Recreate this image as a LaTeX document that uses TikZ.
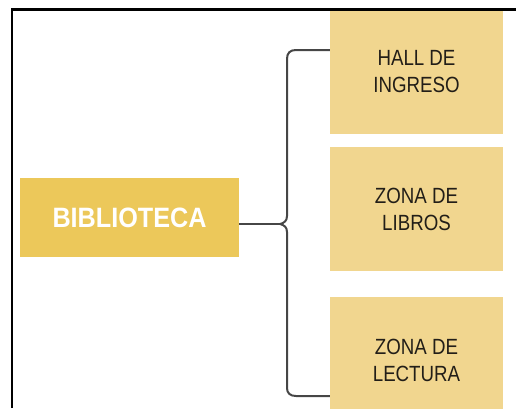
\documentclass[tikz,border=0pt]{standalone}
\usepackage{fontspec}
\newfontfamily\mainfont{Liberation Sans}[FakeStretch=0.9]
\newfontfamily\boxfont{Liberation Sans}[FakeStretch=0.85]
\usepackage{tikz}
\usetikzlibrary{positioning}
\definecolor{maingold}{RGB}{236,200,90}
\definecolor{areagold}{RGB}{241,214,143}
\definecolor{areatext}{RGB}{34,30,24}
\definecolor{bracegray}{RGB}{70,70,70}
\tikzstyle{mainbox} = [rectangle, minimum width=219pt, minimum height=79pt, inner sep=0pt, text centered, fill=maingold, text=white, font=\mainfont\bfseries\fontsize{28}{30}\selectfont]
\tikzstyle{areabox} = [rectangle, minimum width=173pt, minimum height=124pt, inner sep=0pt, align=center, fill=areagold, text=areatext, font=\boxfont\fontsize{22}{27}\selectfont]
\tikzstyle{brace} = [line width=2pt, draw=bracegray, line join=round]
\tikzstyle{frame} = [line width=2.2pt, draw=black]

\begin{document}
\begin{tikzpicture}[x=1pt,y=-1pt]
    \useasboundingbox (0,0) rectangle (516,408);
    \clip (0,0) rectangle (516,408);
    \node (bib) [mainbox] at (129.5,217.5) {BIBLIOTECA};
    \node (hall) [areabox] at (416.5,71.5) {HALL DE\\INGRESO};
    \node (libros) [areabox] at (416.5,209) {ZONA DE\\LIBROS};
    \node (lectura) [areabox, minimum height=126pt] at (416.5,360) {ZONA DE\\LECTURA};

    \coordinate (top) at (296,50);
    \coordinate (cusp) at (280,224);
    \coordinate (bot) at (296,396);

    \draw [brace] (bib.east |- cusp) -- (cusp);
    \draw [brace] (hall.west |- top) -- (top) .. controls (290,50) and (287,53) .. (287,59)
        -- (287,216) .. controls (287,221) and (284,223) .. (cusp)
        .. controls (284,225) and (287,227) .. (287,232)
        -- (287,388) .. controls (287,393) and (290,396) .. (bot) -- (lectura.west |- bot);

    \draw [frame] (12,408) -- (12,9.5) -- (516,9.5);
  \end{tikzpicture}
\end{document}
